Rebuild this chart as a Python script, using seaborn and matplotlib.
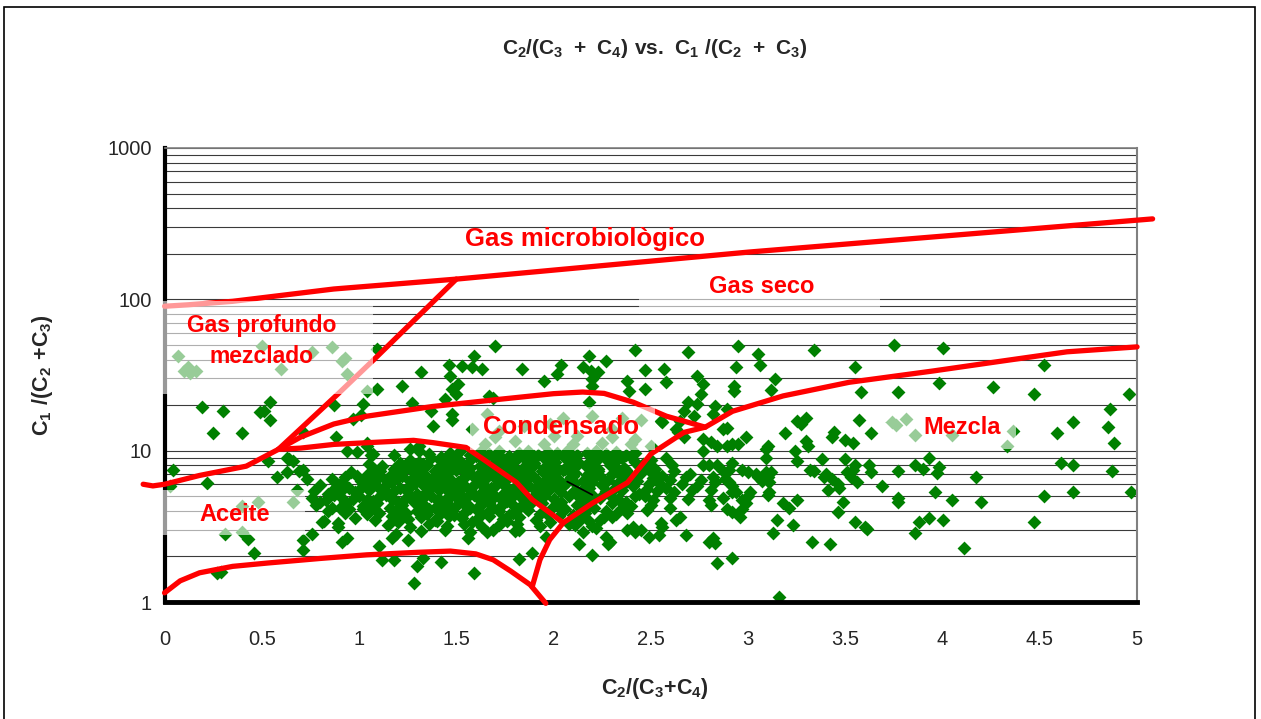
import matplotlib
matplotlib.use("Agg")
import matplotlib.pyplot as plt
from matplotlib.patches import Rectangle
from matplotlib.ticker import NullFormatter, LogLocator
import pandas as pd
import seaborn as sns

sns.set_style("white")
plt.rcParams["font.family"] = ["Liberation Sans", "DejaVu Sans"]
plt.rcParams["mathtext.fontset"] = "custom"
plt.rcParams["mathtext.rm"] = "Liberation Sans"
plt.rcParams["mathtext.bf"] = "Liberation Sans:bold"

# ---- samples: (C2/(C3+C4), C1/(C2+C3)) ----
# dense cluster, row by row
core = [
    (1.47, 9.6), (1.52, 9.9), (1.57, 9.3), (1.62, 9.8), (1.67, 9.5), (1.72, 9.9), (1.77, 9.2),
    (1.82, 9.7), (1.87, 9.9), (1.92, 9.4), (1.97, 9.8), (2.02, 9.6), (2.07, 9.9), (2.12, 9.3),
    (2.17, 9.7), (2.22, 9.9), (2.27, 9.5), (2.32, 9.8), (2.37, 9.4), (2.42, 9.7), (1.42, 9.1),
    (1.36, 9.5),
    (1.26, 8.7), (1.31, 8.4), (1.37, 8.9), (1.42, 8.5), (1.48, 8.8), (1.53, 8.3), (1.58, 8.9),
    (1.64, 8.6), (1.69, 8.2), (1.74, 8.8), (1.80, 8.5), (1.85, 8.9), (1.90, 8.3), (1.96, 8.7),
    (2.01, 8.4), (2.06, 8.9), (2.12, 8.6), (2.17, 8.2), (2.23, 8.8), (2.28, 8.5), (2.35, 8.9),
    (2.42, 8.4), (2.50, 8.7), (2.58, 8.9),
    (1.12, 7.9), (1.18, 7.6), (1.24, 8.1), (1.29, 7.7), (1.35, 8.0), (1.40, 7.6), (1.46, 7.9),
    (1.51, 8.1), (1.57, 7.7), (1.62, 7.9), (1.68, 7.6), (1.73, 8.0), (1.79, 7.8), (1.84, 7.6),
    (1.90, 8.0), (1.95, 7.7), (2.01, 7.9), (2.06, 7.6), (2.12, 8.0), (2.17, 7.8), (2.23, 7.6),
    (2.29, 8.0), (2.36, 7.7), (2.44, 7.9), (2.52, 7.6), (2.61, 8.0), (1.05, 8.2),
    (0.96, 7.2), (1.04, 6.9), (1.11, 7.3), (1.17, 7.0), (1.23, 7.4), (1.28, 7.1), (1.34, 6.9),
    (1.39, 7.3), (1.45, 7.0), (1.50, 7.4), (1.56, 7.1), (1.61, 6.9), (1.67, 7.3), (1.72, 7.0),
    (1.78, 7.4), (1.83, 7.1), (1.89, 6.9), (1.94, 7.3), (2.00, 7.0), (2.05, 7.4), (2.11, 7.1),
    (2.17, 6.9), (2.23, 7.3), (2.30, 7.0), (2.37, 7.4), (2.45, 7.1), (2.53, 6.9), (2.62, 7.3),
    (2.70, 7.0),
    (0.86, 6.5), (0.93, 6.7), (1.01, 6.3), (1.08, 6.6), (1.14, 6.4), (1.20, 6.7), (1.26, 6.3),
    (1.31, 6.6), (1.37, 6.4), (1.42, 6.7), (1.48, 6.3), (1.53, 6.5), (1.59, 6.7), (1.64, 6.4),
    (1.70, 6.6), (1.75, 6.3), (1.81, 6.7), (1.86, 6.5), (1.92, 6.3), (1.97, 6.6), (2.03, 6.4),
    (2.09, 6.7), (2.15, 6.3), (2.21, 6.6), (2.28, 6.4), (2.35, 6.7), (2.43, 6.3), (2.51, 6.6),
    (2.60, 6.4), (2.68, 6.7), (2.76, 6.4),
    (0.80, 5.9), (0.88, 6.1), (0.95, 5.7), (1.02, 6.0), (1.09, 5.8), (1.15, 6.1), (1.21, 5.7),
    (1.27, 5.9), (1.32, 6.1), (1.38, 5.8), (1.43, 6.0), (1.49, 5.7), (1.54, 5.9), (1.60, 6.1),
    (1.65, 5.8), (1.71, 6.0), (1.76, 5.7), (1.82, 6.1), (1.87, 5.9), (1.93, 5.7), (1.99, 6.0),
    (2.05, 5.8), (2.11, 6.1), (2.18, 5.7), (2.25, 5.9), (2.33, 6.1), (2.41, 5.8), (2.49, 6.0),
    (2.58, 5.7), (2.66, 6.0), (2.74, 5.8),
    (0.77, 5.4), (0.84, 5.2), (0.91, 5.5), (0.98, 5.3), (1.05, 5.5), (1.12, 5.2), (1.18, 5.4),
    (1.24, 5.5), (1.30, 5.2), (1.35, 5.4), (1.41, 5.5), (1.46, 5.3), (1.52, 5.2), (1.57, 5.5),
    (1.63, 5.3), (1.68, 5.5), (1.74, 5.2), (1.79, 5.4), (1.85, 5.5), (1.91, 5.2), (1.97, 5.4),
    (2.04, 5.3), (2.11, 5.5), (2.19, 5.2), (2.27, 5.4), (2.35, 5.5), (2.44, 5.2), (2.53, 5.4),
    (2.62, 5.3), (2.71, 5.5),
    (0.76, 4.9), (0.83, 4.7), (0.90, 5.0), (0.97, 4.8), (1.04, 4.7), (1.11, 5.0), (1.17, 4.8),
    (1.23, 4.7), (1.29, 4.9), (1.34, 5.0), (1.40, 4.7), (1.45, 4.9), (1.51, 4.8), (1.56, 5.0),
    (1.62, 4.7), (1.67, 4.9), (1.73, 4.8), (1.79, 5.0), (1.85, 4.7), (1.92, 4.9), (2.00, 4.8),
    (2.08, 5.0), (2.16, 4.7), (2.24, 4.9), (2.33, 4.8), (2.42, 5.0), (2.51, 4.7), (2.60, 4.9),
    (2.69, 4.8),
    (0.78, 4.4), (0.86, 4.2), (0.94, 4.5), (1.02, 4.3), (1.09, 4.5), (1.16, 4.2), (1.22, 4.4),
    (1.28, 4.55), (1.34, 4.3), (1.39, 4.2), (1.45, 4.5), (1.50, 4.3), (1.56, 4.4), (1.61, 4.2),
    (1.67, 4.5), (1.73, 4.3), (1.79, 4.4), (1.86, 4.2), (1.94, 4.5), (2.03, 4.3), (2.12, 4.4),
    (2.21, 4.2), (2.30, 4.5), (2.40, 4.3), (2.50, 4.4), (2.60, 4.2),
    (0.84, 4.0), (0.93, 3.85), (1.02, 4.1), (1.10, 3.9), (1.17, 4.05), (1.24, 3.85), (1.30, 4.0),
    (1.36, 4.1), (1.42, 3.9), (1.48, 4.0), (1.54, 3.85), (1.60, 4.1), (1.66, 3.9), (1.72, 4.0),
    (1.79, 3.85), (1.87, 4.05), (1.96, 3.9), (2.06, 4.1), (2.16, 3.9), (2.27, 4.0), (2.38, 3.85),
    (2.48, 4.05),
    (0.98, 3.6), (1.08, 3.5), (1.17, 3.7), (1.25, 3.55), (1.32, 3.65), (1.39, 3.5), (1.46, 3.7),
    (1.53, 3.6), (1.60, 3.5), (1.67, 3.7), (1.74, 3.55), (1.82, 3.65), (1.91, 3.5), (2.03, 3.7),
    (2.14, 3.55), (2.26, 3.65),
    (1.15, 3.25), (1.26, 3.15), (1.36, 3.3), (1.45, 3.2), (1.54, 3.3), (1.63, 3.15), (1.72, 3.25),
    (1.81, 3.3), (1.93, 3.2), (2.08, 3.3), (2.20, 3.2),
    (1.32, 2.95), (1.44, 3.0), (1.57, 2.9), (1.69, 3.0), (1.80, 2.95), (2.15, 2.9), (2.38, 3.0),
]

# more points packed between the rows of the cluster
core_fill = [
    (1.50, 9.1), (1.60, 9.2), (1.70, 9.0), (1.80, 9.1), (1.90, 9.2), (2.00, 9.0), (2.10, 9.1),
    (2.20, 9.2), (2.30, 9.0), (2.40, 9.1),
    (1.21, 8.3), (1.33, 8.2), (1.45, 8.3), (1.55, 8.1), (1.65, 8.3), (1.76, 8.2), (1.87, 8.3),
    (1.98, 8.1), (2.09, 8.3), (2.20, 8.2), (2.31, 8.3), (2.46, 8.2),
    (1.08, 7.5), (1.20, 7.45), (1.31, 7.55), (1.42, 7.45), (1.53, 7.55), (1.64, 7.5), (1.75, 7.45),
    (1.86, 7.55), (1.97, 7.5), (2.08, 7.45), (2.19, 7.55), (2.33, 7.5), (2.49, 7.45),
    (0.99, 6.85), (1.11, 6.8), (1.22, 6.85), (1.33, 6.75), (1.44, 6.85), (1.55, 6.8), (1.66, 6.75),
    (1.77, 6.85), (1.88, 6.8), (1.99, 6.75), (2.10, 6.85), (2.24, 6.8), (2.40, 6.8), (2.56, 6.85),
    (0.91, 6.2), (1.05, 6.2), (1.17, 6.25), (1.29, 6.15), (1.40, 6.2), (1.51, 6.25), (1.62, 6.15),
    (1.73, 6.2), (1.84, 6.25), (1.95, 6.15), (2.07, 6.2), (2.20, 6.25), (2.37, 6.2), (2.54, 6.15),
    (0.87, 5.6), (1.01, 5.65), (1.13, 5.6), (1.24, 5.55), (1.35, 5.65), (1.46, 5.6), (1.57, 5.55),
    (1.68, 5.65), (1.79, 5.6), (1.90, 5.55), (2.02, 5.65), (2.15, 5.6), (2.31, 5.6), (2.48, 5.55),
    (0.87, 5.1), (1.00, 5.05), (1.14, 5.1), (1.26, 5.1), (1.37, 5.05), (1.48, 5.1), (1.59, 5.1),
    (1.70, 5.05), (1.82, 5.1), (1.95, 5.05), (2.12, 5.1), (2.29, 5.1), (2.47, 5.05),
    (0.80, 4.6), (0.93, 4.6), (1.07, 4.65), (1.20, 4.6), (1.31, 4.6), (1.42, 4.65), (1.53, 4.6),
    (1.64, 4.6), (1.76, 4.65), (1.89, 4.6), (2.04, 4.6), (2.20, 4.65), (2.37, 4.6),
    (0.90, 4.15), (1.06, 4.15), (1.20, 4.2), (1.33, 4.15), (1.45, 4.15), (1.57, 4.2), (1.69, 4.15),
    (1.82, 4.15), (1.99, 4.2), (2.17, 4.15), (2.35, 4.15),
    (1.04, 3.8), (1.21, 3.75), (1.35, 3.8), (1.49, 3.75), (1.63, 3.8), (1.77, 3.75), (1.93, 3.8),
    (2.10, 3.75), (2.32, 3.8),
    (1.20, 3.4), (1.40, 3.45), (1.58, 3.4), (1.76, 3.45), (1.98, 3.4), (2.18, 3.45),
]

# loose points around the cluster, below y = 4
fringe = [
    (2.42, 2.9), (2.45, 3.0), (2.41, 3.15), (2.54, 2.78), (2.49, 2.7), (2.68, 2.78), (2.63, 3.5),
    (2.65, 3.66), (2.55, 3.34), (2.56, 3.15), (2.24, 3.5), (2.30, 3.66), (2.22, 3.1), (2.27, 2.7),
    (2.29, 2.5), (2.28, 2.4), (2.13, 2.42), (2.20, 2.05), (2.11, 3.24), (1.96, 2.7), (1.82, 3.0),
    (1.66, 2.9), (1.56, 2.65), (1.59, 1.56), (1.82, 1.93), (1.89, 2.11),
]

# oil zone and left part
aceite = [
    (0.045, 7.4), (0.03, 5.8), (0.22, 6.1), (0.53, 8.6), (0.58, 6.7), (0.63, 7.2), (0.66, 8.5),
    (0.64, 8.75), (0.69, 7.3), (0.73, 6.45), (0.68, 5.5), (0.71, 7.5), (0.40, 4.3), (0.48, 4.6),
    (0.31, 2.8), (0.40, 2.9), (0.66, 4.6), (0.43, 2.6), (0.46, 2.1), (0.27, 1.56), (0.29, 1.58),
    (0.71, 2.58), (0.71, 2.2), (0.76, 2.8), (0.81, 3.4), (0.89, 3.15), (0.89, 3.35), (0.91, 2.5),
    (0.94, 2.65), (0.95, 4.1), (1.12, 1.9), (1.18, 1.9), (1.10, 2.35), (1.17, 2.65), (1.19, 2.8),
    (1.25, 2.58), (1.30, 1.73), (1.33, 1.96), (1.28, 1.34), (1.42, 1.84), (0.63, 8.9),
    (0.94, 10.0), (0.99, 9.75), (1.04, 11.3), (1.07, 9.45), (1.04, 10.7), (1.06, 9.3),
    (1.18, 9.3), (1.26, 10.3), (1.31, 10.0), (1.31, 10.7), (0.82, 3.45),
]

# upper part (y > 10), left and centre
upper = [
    (0.19, 19.4), (0.30, 18.2), (0.25, 13.0), (0.40, 13.0), (0.49, 17.9), (0.51, 18.2),
    (0.54, 21.0), (0.54, 15.9), (0.71, 13.2), (0.87, 20.0), (0.88, 12.3), (0.97, 16.1),
    (1.01, 17.1), (1.02, 20.3), (1.04, 24.8), (1.09, 25.5), (1.09, 47.0), (1.22, 26.7),
    (1.32, 33.0), (1.27, 20.6), (1.38, 14.5), (1.37, 18.2), (1.44, 21.8), (1.46, 37.0),
    (1.47, 31.0), (1.48, 25.5), (1.48, 17.4), (1.48, 15.9), (1.50, 23.6), (1.51, 27.5),
    (1.53, 36.5), (1.59, 42.0), (1.58, 35.7), (1.63, 34.5), (1.70, 49.0), (1.67, 22.9),
    (1.69, 22.4), (1.66, 17.4), (1.84, 34.5), (1.95, 28.8), (2.02, 32.0), (2.04, 37.0),
    (2.15, 35.7), (2.19, 33.6), (2.23, 33.0), (2.27, 39.0), (2.18, 42.0), (2.20, 29.6),
    (2.20, 26.7), (2.42, 46.0), (2.47, 34.0), (2.38, 28.8), (2.39, 24.8), (2.47, 25.5),
    (2.57, 34.5), (2.58, 28.3), (2.69, 45.0), (2.74, 31.0), (2.77, 27.5), (2.76, 23.6),
    (2.95, 49.0), (3.05, 43.5), (3.06, 36.8), (2.94, 35.7), (3.14, 29.7), (3.12, 25.1),
    (2.93, 26.7), (2.93, 24.8), (3.34, 46.0), (3.55, 35.7), (3.58, 24.4), (3.75, 50.0),
    (3.77, 24.4), (4.00, 47.5), (4.52, 36.8), (3.98, 27.9), (4.26, 26.2), (4.47, 23.6),
    (4.96, 23.6), (4.86, 18.8), (4.85, 14.3), (4.88, 11.3), (4.67, 15.4), (4.59, 13.0),
    (2.18, 20.9),
    # under the "Gas profundo mezclado" label
    (0.07, 42.0), (0.10, 33.6), (0.13, 32.5), (0.16, 33.5), (0.12, 35.5), (0.50, 49.0),
    (0.60, 34.5), (0.76, 45.0), (0.86, 48.5), (0.91, 39.0), (0.93, 41.0), (0.94, 32.0),
    # under the "Condensado" label
    (1.58, 14.0), (1.72, 13.5), (1.85, 14.5), (1.98, 15.0), (2.05, 16.5), (2.12, 12.5),
    (2.20, 17.0), (2.30, 14.0), (2.35, 16.5), (2.45, 16.0), (2.42, 12.0), (1.65, 11.0),
    (1.80, 11.5), (1.95, 11.0), (2.10, 11.0), (2.25, 11.2), (2.40, 11.0), (2.50, 10.8),
    (1.70, 12.3), (2.00, 12.5), (2.30, 12.4),
]

# between the condensate and the mixture zone, y 10-20
middle = [
    (2.56, 15.4), (2.67, 18.2), (2.65, 15.6), (2.63, 13.8), (2.67, 12.4), (2.74, 20.3),
    (2.72, 16.9), (2.83, 19.7), (2.82, 17.4), (2.89, 18.8), (2.87, 13.8), (2.89, 14.2),
    (2.99, 12.4), (3.19, 13.0), (3.25, 15.6), (3.30, 16.4), (3.27, 14.9), (3.44, 13.2),
    (3.43, 12.4), (3.50, 11.7), (3.54, 11.3), (3.57, 15.9), (3.63, 13.0), (3.30, 11.5),
    (3.31, 10.7), (3.24, 9.9), (3.09, 10.3), (3.10, 10.7), (2.69, 20.9), (2.55, 15.6),
    (2.77, 11.9), (2.81, 11.4), (2.84, 10.7), (2.89, 10.8), (2.92, 11.0), (2.95, 11.0),
    (2.77, 10.0), (2.64, 13.2),
    # under the "Mezcla" label
    (3.74, 15.4), (3.81, 16.1), (3.76, 14.8), (3.86, 12.6), (4.05, 12.6), (4.36, 13.4),
    (4.33, 10.7),
]

# right part, y < 10
right = [
    (2.77, 8.1), (2.80, 8.1), (2.84, 8.1), (2.87, 7.3), (2.90, 7.5), (2.92, 8.3), (2.82, 6.75),
    (2.83, 6.2), (2.81, 5.5), (2.88, 6.45), (2.90, 6.2), (2.92, 5.8), (2.92, 5.3), (2.94, 5.3),
    (2.97, 7.5), (3.00, 7.2), (3.04, 7.0), (3.05, 6.65), (3.09, 7.2), (3.10, 6.75), (3.12, 7.2),
    (3.11, 6.2), (3.07, 6.3), (3.01, 5.3), (2.99, 4.5), (2.97, 4.1), (2.80, 4.75), (2.81, 4.4),
    (2.87, 4.9), (2.89, 4.1), (2.92, 3.95), (2.96, 3.66), (3.10, 5.1), (3.11, 5.3), (3.18, 4.5),
    (3.21, 4.2), (3.25, 4.75), (3.15, 3.5), (3.23, 3.24), (3.13, 2.87), (2.80, 2.5), (2.83, 2.47),
    (2.82, 2.65), (2.84, 1.81), (2.92, 1.96), (3.16, 1.08), (3.33, 2.5), (3.42, 2.42), (3.32, 7.5),
    (3.38, 8.75), (3.40, 7.0), (3.43, 6.45), (3.46, 6.0), (3.47, 5.7), (3.41, 5.5), (3.50, 8.75),
    (3.55, 8.1), (3.54, 7.5), (3.51, 7.2), (3.53, 6.65), (3.56, 6.25), (3.62, 8.1), (3.63, 7.2),
    (3.69, 5.8), (3.49, 4.6), (3.46, 3.95), (3.55, 3.4), (3.60, 3.15), (3.61, 3.05), (3.77, 7.3),
    (3.77, 4.6), (3.77, 4.9), (2.97, 4.75), (3.00, 5.0), (3.09, 9.0), (3.25, 8.6), (3.34, 7.3),
    (3.39, 6.75), (3.86, 8.1), (3.90, 7.6), (3.93, 9.0), (3.98, 7.8), (3.97, 7.1), (3.96, 5.3),
    (4.05, 4.75), (4.17, 6.65), (4.20, 4.6), (3.88, 3.4), (3.93, 3.6), (4.00, 3.5), (3.86, 2.87),
    (4.11, 2.28), (4.47, 3.4), (4.52, 5.05), (4.61, 8.35), (4.67, 8.1), (4.67, 5.3), (4.87, 7.3),
    (4.97, 5.3),
]

# ---- zone boundaries ----
micro_x = [0.0, 0.12, 0.35, 0.87, 1.5, 3.0, 5.08]
micro_y = [90, 92, 97, 117, 136, 205, 340]

diag_x = [0.585, 0.89, 1.08, 1.5]
diag_y = [10.2, 23.6, 40.4, 136]

cond_top_x = [0.585, 0.7, 0.87, 1.04, 1.38, 1.73, 2.0, 2.15, 2.26, 2.41, 2.58, 2.78]
cond_top_y = [10.2, 12.3, 15.0, 16.9, 19.6, 21.9, 23.8, 24.4, 23.9, 20.9, 16.9, 14.3]

mix_x = [1.89, 1.93, 1.98, 2.05, 2.2, 2.38, 2.5, 2.67, 2.78, 2.92, 3.18, 3.52, 3.95, 4.3, 4.64, 5.0]
mix_y = [1.26, 1.9, 2.58, 3.34, 4.5, 6.15, 9.5, 13.2, 14.3, 18.2, 23, 28.3, 33.6, 39, 45, 48.5]

oil_top_x = [-0.11, -0.06, 0.0, 0.18, 0.42, 0.585, 0.70, 0.87, 1.28, 1.38, 1.55, 1.64, 1.81, 1.89, 2.05]
oil_top_y = [6.0, 5.85, 6.0, 6.86, 7.9, 10.2, 10.4, 11.0, 11.7, 11.3, 10.5, 8.75, 6.16, 4.75, 3.34]

oil_low_x = [0.0, 0.08, 0.18, 0.35, 0.53, 0.8, 1.04, 1.3, 1.47, 1.6, 1.69, 1.78, 1.88, 1.96]
oil_low_y = [1.15, 1.38, 1.56, 1.72, 1.81, 1.94, 2.05, 2.13, 2.17, 2.08, 1.9, 1.6, 1.3, 0.98]

stray_x = [2.07, 2.20]
stray_y = [6.25, 5.1]

# zone labels: text, x, y, font size, and the half white box behind it (or None)
zones = [
    ("Gas microbiològico", 2.16, 252, 18.5, None),
    ("Gas seco", 3.07, 121, 17, (2.44, 3.68, 80, 150)),
    ("Gas profundo\nmezclado", 0.5, 53, 16.5, (-0.02, 1.07, 23.8, 98)),
    ("Condensado", 2.04, 14.3, 18.5, (1.57, 2.52, 10.1, 19.4)),
    ("Aceite", 0.36, 3.78, 17, (-0.02, 0.72, 2.78, 5.5)),
    ("Mezcla", 4.1, 14.3, 17, (3.71, 4.38, 10.2, 18.8)),
]

df = pd.DataFrame(core + core_fill + fringe + aceite + upper + middle + right,
                  columns=["c2_c34", "c1_c23"])

fig = plt.figure(figsize=(12.61, 7.19), dpi=100)
ax = fig.add_axes([0.1305, 0.1627, 0.7712, 0.6315])

sns.scatterplot(data=df, x="c2_c34", y="c1_c23", marker="D", s=50, color="#008000",
                linewidth=0, ax=ax, zorder=2, legend=False)

ax.set_yscale("log")
ax.set_xlim(0, 5)
ax.set_ylim(1, 1000)

for xs, ys in [(micro_x, micro_y), (diag_x, diag_y), (cond_top_x, cond_top_y),
               (mix_x, mix_y), (oil_top_x, oil_top_y), (oil_low_x, oil_low_y)]:
    ax.plot(xs, ys, color="#ff0000", lw=3.8, solid_capstyle="round",
            solid_joinstyle="round", zorder=3, clip_on=False)
ax.plot(stray_x, stray_y, color="black", lw=1.2, zorder=3)

for label, tx, ty, size, box in zones:
    if box is not None:
        x0, x1, y0, y1 = box
        ax.add_patch(Rectangle((x0, y0), x1 - x0, y1 - y0, facecolor=(1, 1, 1, 0.6),
                               edgecolor="none", zorder=4, clip_on=False))
    ax.text(tx, ty, label, color="#ff0000", fontsize=size, fontweight="bold",
            ha="center", va="center", zorder=5, linespacing=1.4)

# grid and axes look
ax.yaxis.set_minor_locator(LogLocator(base=10, subs=range(2, 10)))
ax.yaxis.set_minor_formatter(NullFormatter())
ax.yaxis.grid(True, which="both", color="#3a3a3a", lw=0.8)
ax.xaxis.grid(False)
ax.set_axisbelow(True)

ax.set_yticks([1, 10, 100, 1000])
ax.set_yticklabels(["1", "10", "100", "1000"])
ax.set_xticks([0, 0.5, 1, 1.5, 2, 2.5, 3, 3.5, 4, 4.5, 5])
ax.set_xticklabels(["0", "0.5", "1", "1.5", "2", "2.5", "3", "3.5", "4", "4.5", "5"])
ax.tick_params(axis="y", which="major", length=6, width=2.5, pad=3, labelsize=14.5, color="black")
ax.tick_params(axis="x", which="major", length=8, width=2.5, pad=12, labelsize=14.5, color="black")
ax.tick_params(which="minor", length=0)
ax.set_xlabel("")
ax.set_ylabel("")

ax.spines["left"].set_linewidth(3)
ax.spines["left"].set_color("black")
ax.spines["bottom"].set_linewidth(3.5)
ax.spines["bottom"].set_color("black")
ax.spines["right"].set_linewidth(1.5)
ax.spines["right"].set_color("#808080")
ax.spines["top"].set_linewidth(1.2)
ax.spines["top"].set_color("#808080")

fig.text(0.519, 0.933, r"$\mathbf{C_2/(C_3\ +\ C_4)\ vs.\ C_1\ /(C_2\ +\ C_3)}$",
         ha="center", va="center", fontsize=15)
fig.text(0.519, 0.043, r"$\mathbf{C_2/(C_3{+}C_4)}$", ha="center", va="center", fontsize=15.5)
fig.text(0.034, 0.478, r"$\mathbf{C_1\ /(C_2\ {+}C_3)}$", ha="center", va="center",
         fontsize=15.5, rotation=90)

fig.patches.append(Rectangle((0.0032, -0.05), 0.9921, 1.04, transform=fig.transFigure,
                             fill=False, edgecolor="black", lw=1.2))

fig.savefig("out.png", dpi=100)
